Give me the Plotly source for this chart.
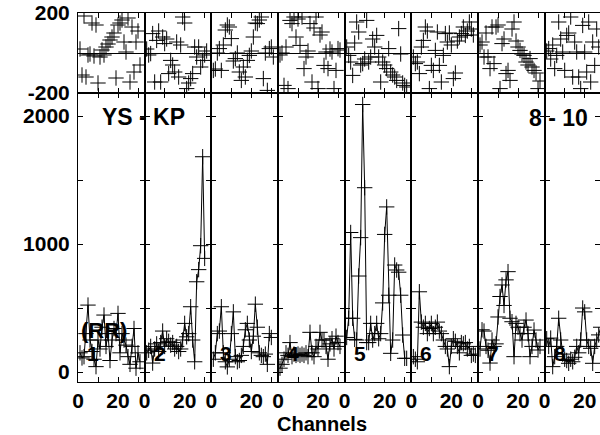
import plotly.graph_objects as go

# ---------------- data ----------------
panel_labels = ["1", "2", "3", "4", "5", "6", "7", "8"]

amp_1 = [150, 110, 120, 300, 523, 250, 160, 100, 42, 250, 180, 350, 445, 200, 300, 90,
         250, 340, 300, 458, 150, 300, 250, 210, 120, 60, 200, 340, 30, 150, 80]
amp_2 = [150, 170, 200, 70, 180, 220, 160, 230, 320, 200, 260, 240, 210, 230, 180, 200,
         160, 180, 250, 380, 275, 300, 510, 250, 80, 705, 800, 987, 1682, 888]
amp_3 = [100, 150, 300, 320, 510, 150, 80, 40, 100, 300, 470, 120, 80, 90, 130, 200,
         330, 380, 250, 160, 280, 530, 350, 150, 130, 120, 140, 60, 300, 270]
amp_4 = [30, 60, 100, 150, 130, 230, 120, 140, 130, 140, 130, 140, 130, 150, 120, 310,
         150, 120, 200, 180, 310, 250, 250, 200, 100, 220, 260, 180, 280, 230, 200]
amp_5 = [270, 420, 1090, 420, 255, 250, 750, 1050, 2090, 1440, 230, 230, 380, 250, 300, 380,
         260, 300, 540, 1075, 1290, 600, 146, 250, 836, 797, 780, 600, 289, 107, 107]
amp_6 = [120, 100, 80, 627, 390, 350, 380, 300, 340, 380, 300, 350, 390, 320, 300, 250,
         200, 180, 42, 200, 260, 240, 200, 150, 230, 220, 230, 180, 200, 130, 140, 130]
amp_7 = [180, 330, 320, 200, 170, 70, 250, 200, 220, 430, 590, 680, 520, 720, 784, 420,
         393, 120, 380, 350, 300, 250, 350, 406, 300, 120, 200, 328, 250, 172, 200]
amp_8 = [260, 200, 265, 42, 120, 200, 420, 250, 140, 100, 90, 68, 100, 80, 115, 200,
         150, 250, 500, 470, 250, 200, 185, 68, 200, 250, 290, 350]

phase_1 = [20, -110, 185, -120, -10, -5, 150, -15, 140, -150, -20, 15, -10, 30, 45, 65,
           80, 100, -125, 140, 150, 165, 55, 5, 175, -145, 130, -95, 55, 110, -60]
phase_2 = [20, -10, -3, 97, -145, 63, 110, -145, 80, 47, 70, -103, -37, -60, -95, 55,
           -120, 40, 180, 150, -178, -150, -128, -103, 30, -20, 30, -70, -37, -10, 10]
phase_3 = [-87, -80, 0, 22, -87, 40, 115, 140, 130, 72, -40, -28, 0, -95, -137, -70,
           -120, -37, -12, 10, 80, 150, 147, 165, 180, -128, 0, -187, 22, 30, -20]
phase_4 = [-10, 0, -162, 30, -178, 163, 147, 180, 80, 170, 38, 180, -78, -20, 10, 147,
           -145, 125, 180, -178, 90, 105, -62, 5, -78, 20, 5, -178, -87, 22, 15]
phase_5 = [30, -12, -45, -112, 50, 155, 105, -60, -53, -30, 163, -45, -20, 70, 30, 88,
           -20, -145, -45, -60, -78, 22, -95, -110, -120, -137, 122, -5, -150, -162, -170]
phase_6 = [-20, -53, -45, -103, 30, 63, 130, 110, -178, -62, -87, 13, 105, -62, -145, -12,
           97, 55, 100, 40, -128, -100, 60, 80, 97, 130, 88, 110, 155, 120, 90]
phase_7 = [40, 55, -20, 100, -20, -78, 130, -53, 130, 140, -178, 47, 70, -103, -87, -137,
           120, 155, 60, 30, 13, -5, -12, -45, -60, -28, -70, -87, -100, -178, -140]
phase_8 = [10, 22, -30, 40, -78, -12, 155, 70, 5, -87, 88, 100, 180, -120, 55, 5,
           -120, -178, 138, 5, -95, 155, -145, 55, -62, 120, 30]

amps = [amp_1, amp_2, amp_3, amp_4, amp_5, amp_6, amp_7, amp_8]
phases = [phase_1, phase_2, phase_3, phase_4, phase_5, phase_6, phase_7, phase_8]

amp_ticks = [0, 500, 1000, 1500, 2000]
amp_ticktext = ["0", "", "1000", "", "2000"]
ch_ticks = [0, 10, 20, 30]
ch_ticktext = ["0", "", "20", ""]
phase_ticks = [-200, 200]
phase_ticktext = ["-200", "200"]

# ---------------- layout geometry ----------------
W, H = 600, 435
ML, MR, MT, MB = 78, 0, 13, 53
PW = W - ML - MR
PH = H - MT - MB
panel_px = 66.67
px_per_ch = 2.0
split = 1 - 80 / PH

FONT = "Liberation Sans, Arial, sans-serif"
tickfont = dict(family=FONT, size=21, color="black", weight="bold")
cross = dict(symbol="cross-thin-open", size=11, color="black",
             line=dict(color="black", width=1))

fig = go.Figure()
layout = {}
for k in range(8):
    x0 = k * panel_px / PW
    x1 = min((k + 1) * panel_px / PW, 1.0)
    width_px = (x1 - x0) * PW
    xr = [0, width_px / px_per_ch]
    ia = k + 1       # amplitude axes
    ip = k + 9       # phase axes
    chans = list(range(1, len(amps[k]) + 1))
    fig.add_trace(go.Scatter(
        x=chans, y=amps[k], mode="lines+markers",
        xaxis=f"x{ia}", yaxis=f"y{ia}",
        line=dict(color="black", width=1), marker=cross,
        showlegend=False, hoverinfo="skip"))
    pch = list(range(1, len(phases[k]) + 1))
    fig.add_trace(go.Scatter(
        x=pch, y=phases[k], mode="markers",
        xaxis=f"x{ip}", yaxis=f"y{ip}", marker=cross,
        showlegend=False, hoverinfo="skip"))

    common_x = dict(range=xr, domain=[x0, x1], showline=True, linecolor="black", linewidth=1,
                    mirror="ticks", ticks="inside", ticklen=5, tickcolor="black",
                    tickvals=ch_ticks, showgrid=False, zeroline=False, automargin=False)
    layout[f"xaxis{ia}"] = dict(common_x, anchor=f"y{ia}", ticktext=ch_ticktext,
                                tickfont=tickfont, ticklabelstandoff=0)
    layout[f"xaxis{ip}"] = dict(common_x, anchor=f"y{ip}", showticklabels=False)
    layout[f"yaxis{ia}"] = dict(range=[-78, 2180], domain=[0, split], anchor=f"x{ia}",
                                showline=True, linecolor="black", linewidth=1,
                                mirror="ticks", ticks="inside", ticklen=5, tickcolor="black",
                                tickvals=amp_ticks, ticktext=amp_ticktext,
                                showticklabels=(k == 0), tickfont=tickfont,
                                ticklabelstandoff=3, showgrid=False, zeroline=False,
                                automargin=False)
    layout[f"yaxis{ip}"] = dict(range=[-200, 200], domain=[split, 1], anchor=f"x{ip}",
                                showline=True, linecolor="black", linewidth=1, mirror=True,
                                ticks="", tickvals=phase_ticks, ticktext=phase_ticktext,
                                showticklabels=(k == 0), tickfont=tickfont,
                                ticklabelstandoff=3, showgrid=False,
                                zeroline=True, zerolinecolor="black", zerolinewidth=1,
                                automargin=False)

def px(xp):
    return (xp - ML) / PW

def py(yp):
    return (H - MB - yp) / PH

ann = []
def add_text(t, xp, yp, size):
    ann.append(dict(text=t, x=px(xp), y=py(yp), xref="paper", yref="paper",
                    xanchor="center", yanchor="middle", showarrow=False,
                    font=dict(family=FONT, size=size, color="black", weight="bold")))

add_text("YS - KP", 143.5, 117, 23)
add_text("8 - 10", 558, 118, 23)
add_text("(RR)", 104, 330, 22)
for k, lab in enumerate(panel_labels):
    add_text(lab, ML + k * panel_px + 15, 353, 21)
add_text("Channels", 322, 424, 20)

fig.update_layout(
    width=W, height=H,
    margin=dict(l=ML, r=MR, t=MT, b=MB, pad=0, autoexpand=False),
    paper_bgcolor="white", plot_bgcolor="white",
    annotations=ann, **layout)

fig.write_html("out.html", config={"displayModeBar": False},
               post_script="document.body.style.margin='0';document.body.style.overflow='hidden';")
